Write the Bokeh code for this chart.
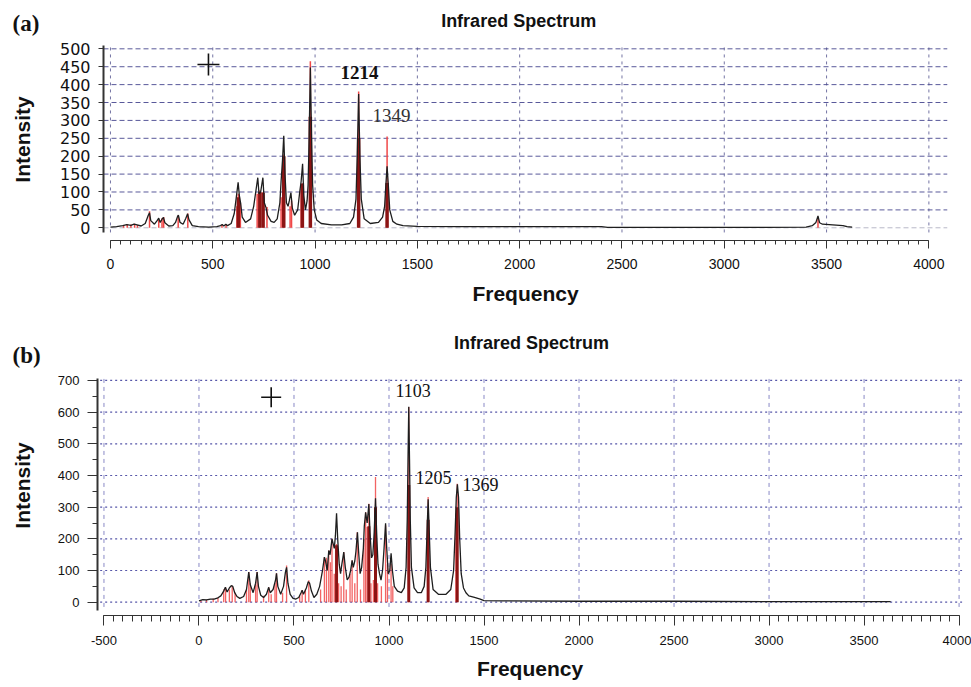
import math
from bokeh.plotting import figure
from bokeh.layouts import column, row
from bokeh.models import FixedTicker, Label
from bokeh.core.properties import value
from bokeh.embed import file_html
from bokeh.resources import INLINE

# ---------------- Panel (a) data ----------------
a_env_freq = [0, 30, 60, 80, 100, 115, 130, 150, 170, 185,
              191, 197, 215, 228, 236, 243, 252, 259, 266, 285,
              305, 318, 328, 332, 340, 355, 368, 377, 384, 400,
              430, 480, 520, 538, 546, 554, 564, 572, 590, 605,
              615, 624, 630, 636, 644, 660, 685, 700, 710, 720,
              726, 734, 745, 752, 760, 768, 785, 800, 815, 828,
              834, 841, 847, 853, 860, 868, 874, 882, 889, 900, 915, 925,
              932, 939, 945, 953, 961, 966, 971, 977, 983, 988, 996, 1008,
              1030, 1080, 1130, 1170, 1188, 1200, 1206, 1213, 1219, 1226, 1240,
              1270, 1310, 1330, 1340, 1346, 1352, 1358, 1365, 1380, 1400, 1430,
              1500, 1700, 2000, 2400, 2430, 2800, 3200, 3400, 3430, 3448,
              3458, 3466, 3480, 3530, 3580, 3600, 3625]
a_env_int = [2, 3, 6, 9, 7, 10, 8, 5, 12, 35,
             42, 20, 10, 20, 27, 15, 24, 29, 14, 5,
             6, 15, 32, 35, 15, 10, 26, 39, 22, 6,
             3, 2, 3, 6, 9, 5, 10, 6, 12, 40,
             85, 127, 90, 70, 30, 15, 25, 60, 100, 140,
             95, 100, 140, 70, 57, 35, 18, 15, 25, 70,
             130, 190, 257, 150, 70, 60, 75, 98, 55, 35, 50, 100,
             130, 179, 90, 50, 75, 120, 250, 448, 250, 120, 50, 22,
             12, 8, 8, 12, 30, 80, 200, 374, 200, 80, 25,
             12, 15, 30, 60, 120, 172, 120, 50, 18, 10, 6,
             4, 3, 3, 3, 1, 1, 1, 2, 6, 15,
             33, 14, 10, 8, 6, 3, 2]
a_stick_freq = [64, 82, 100, 118, 132, 191, 236, 252, 260, 331, 378, 545, 565,
                618, 625, 635, 717, 730, 746, 765, 834, 847, 878, 885, 932,
                938, 977, 1213, 1352, 3458]
a_stick_int = [8, 10, 9, 11, 8, 46, 22, 27, 30, 34, 40, 8, 10,
               60, 95, 70, 95, 104, 100, 58, 85, 205, 60, 76, 110,
               124, 465, 381, 255, 28]
a_dark_freq = [625, 730, 746, 847, 938, 977, 1213, 1352]
a_dark_int = [85, 100, 98, 200, 124, 310, 250, 125]
a_peak_labels = ["1214", "1349"]
a_yticks = list(range(0, 501, 50))
a_xticks = list(range(0, 4001, 500))

# ---------------- Panel (b) data ----------------
b_env_freq = [0, 20, 40, 60, 80, 100, 115, 130, 139, 148,
              160, 170, 178, 188, 200, 215, 235, 250, 262, 270,
              285, 298, 306, 313, 325, 340, 355, 367, 375, 390,
              403, 408, 415, 430, 445, 455, 461, 468, 480, 495,
              510, 525, 537, 543, 550, 565, 575, 582, 592, 605,
              620, 635, 650, 660, 666, 675, 683, 690, 700, 712,
              718, 724, 730, 738, 745, 752, 762, 770, 780, 790,
              798, 806, 812, 820, 826, 834, 840, 848, 856, 865,
              870, 877, 885, 894, 900, 908, 915, 922, 929, 935,
              942, 950, 958, 966, 974, 982, 988, 996, 1004, 1011,
              1018, 1028, 1045, 1065, 1080, 1090, 1096, 1100, 1104, 1108, 1112, 1118,
              1132, 1150, 1170, 1185, 1194, 1200, 1206, 1212, 1218, 1232,
              1260, 1300, 1325, 1340, 1348, 1354, 1360, 1366, 1372, 1380, 1392,
              1405, 1420, 1450, 1480, 1500, 1600, 2000, 2500, 3000, 3640]
b_env_int = [4, 8, 7, 10, 10, 14, 20, 35, 47, 32,
             45, 52, 50, 30, 18, 12, 18, 40, 95, 55,
             30, 60, 95, 50, 22, 15, 25, 47, 30, 40,
             70, 91, 50, 25, 50, 95, 110, 60, 25, 12,
             10, 15, 30, 38, 25, 45, 65, 60, 35, 15,
             25, 50, 100, 142, 130, 100, 163, 150, 200, 170,
             210, 281, 200, 120, 90, 120, 158, 110, 70, 80,
             100, 132, 110, 130, 160, 221, 160, 90, 110, 170,
             240, 284, 250, 310, 220, 140, 150, 220, 328, 220,
             120, 90, 70, 100, 170, 249, 170, 90, 100, 154,
             100, 50, 35, 30, 45, 110, 260, 450, 617, 450, 260, 110,
             45, 30, 30, 50, 110, 220, 325, 220, 110, 40,
             25, 25, 40, 100, 220, 330, 372, 330, 200, 90, 45,
             30, 20, 15, 10, 5, 4, 3, 3, 2, 2]
b_stick_freq = [10, 40, 75, 100, 130, 140, 160, 175, 190, 250, 262, 270, 298, 306,
                340, 367, 380, 400, 408, 440, 461, 530, 543, 560, 578, 640, 660,
                671, 683, 692, 700, 712, 724, 735, 748, 762, 775, 795, 806, 820,
                833, 850, 868, 877, 885, 894, 905, 918, 929, 940, 960, 982, 992,
                1011, 1020, 1104, 1206, 1352, 1359]
b_stick_int = [5, 8, 12, 15, 40, 47, 40, 52, 30, 40, 95, 60, 55, 95,
               20, 47, 25, 60, 91, 30, 116, 20, 38, 40, 69, 40, 142,
               140, 163, 126, 200, 90, 184, 60, 50, 158, 40, 90, 132, 60,
               221, 40, 200, 284, 237, 311, 60, 70, 395, 60, 50, 242, 120,
               121, 50, 616, 332, 280, 374]
b_dark_freq = [724, 894, 929, 1104, 1206, 1359]
b_dark_int = [180, 240, 300, 370, 260, 300]
b_peak_labels = ["1103", "1205", "1369"]
b_yticks = list(range(0, 701, 100))
b_xticks = list(range(-500, 4001, 500))

TITLE = "Infrared Spectrum"
XLAB = "Frequency"
YLAB = "Intensity"
STICK_RED = "#f04848"
DARK_RED = "#8c1414"
LINE_BLACK = "#1e1e1e"
NARROW = "Liberation Sans Narrow, Liberation Sans"
SIDE_W = 45


def style_axis(ax, font, size):
    ax.major_label_text_font = font
    ax.major_label_text_font_size = size
    ax.major_label_text_color = "#111111"
    ax.axis_label_text_font = "Liberation Sans"
    ax.axis_label_text_font_style = "bold"
    ax.axis_label_text_font_size = "21px"
    ax.axis_label_text_color = "#111111"
    ax.axis_line_color = "#333333"
    ax.major_tick_line_color = "#333333"
    ax.minor_tick_line_color = "#333333"
    ax.major_tick_in = 0
    ax.minor_tick_in = 0


def side_panel(height, bottom_border, tag, tag_y, ylab_y):
    # the row aligns this frame with the neighbouring plot frame (top 0, bottom border)
    s = figure(width=SIDE_W, height=height, x_range=(0, SIDE_W),
               y_range=(bottom_border, height),
               x_axis_type=None, y_axis_type=None, toolbar_location=None,
               output_backend="svg", title=None, min_border=0,
               min_border_bottom=bottom_border)
    s.outline_line_color = None
    s.text(x=[12], y=[height - tag_y], text=[tag], text_font=value("Liberation Serif"),
           text_font_size="23px", text_font_style="bold", text_baseline="middle",
           text_align="left", text_color="#111111")
    s.text(x=[22], y=[height - ylab_y], text=[YLAB], angle=math.pi / 2,
           text_font=value("Liberation Sans"), text_font_size="21px",
           text_font_style="bold", text_baseline="middle", text_align="center",
           text_color="#111111")
    return s


# ================= Figure (a) =================
pa = figure(width=971 - SIDE_W, height=322, output_backend="svg", toolbar_location=None,
            title=None, x_range=(-34, 4091), y_range=(-35.5, 635),
            min_border_left=103 - SIDE_W, min_border_right=24, min_border_top=0,
            min_border_bottom=82)
pa.outline_line_color = None
pa.xgrid.visible = False
pa.ygrid.visible = False

ax = pa.xaxis[0]
ax.ticker = FixedTicker(ticks=a_xticks, minor_ticks=list(range(0, 4001, 50)))
ax.bounds = (0, 4000)
ax.axis_label = XLAB
style_axis(ax, "Liberation Sans", "14px")
ax.major_tick_out = 8
ax.minor_tick_out = 4
ax.major_label_standoff = 10
ax.axis_label_standoff = 10

ay = pa.yaxis[0]
ay.ticker = FixedTicker(ticks=a_yticks, minor_ticks=[])
ay.bounds = (-13, 509)
style_axis(ay, "DejaVu Sans", "16px")
ay.axis_line_width = 2
ay.major_tick_out = 5
ay.major_label_standoff = 8

# grid
pa.segment(x0=-34, y0=a_yticks[1:], x1=4091, y1=a_yticks[1:], line_color="#3c3c88",
           line_width=1, line_dash="5 3", line_alpha=0.85)
pa.segment(x0=-34, y0=[a_yticks[0]], x1=4091, y1=[a_yticks[0]], line_color="#b8b8c8",
           line_width=1, line_dash="5 3")
pa.segment(x0=a_xticks, y0=-13, x1=a_xticks, y1=509, line_color="#50508c",
           line_width=1, line_dash="3 4", line_alpha=0.8)

# spectrum
pa.segment(x0=a_stick_freq, y0=0, x1=a_stick_freq, y1=a_stick_int,
           line_color=STICK_RED, line_width=1.5)
pa.segment(x0=a_dark_freq, y0=0, x1=a_dark_freq, y1=a_dark_int,
           line_color=DARK_RED, line_width=3.5)
pa.line(a_env_freq, a_env_int, line_color=LINE_BLACK, line_width=1.3)

pa.scatter([479], [456], marker="cross", size=22, line_color="#111111", line_width=1.6)
pa.add_layout(Label(x=1995, y=579, text=TITLE, text_font="Liberation Sans",
                    text_font_size="18px", text_font_style="bold", text_align="center",
                    text_baseline="middle", text_color="#111111"))
pa.add_layout(Label(x=1124, y=434, text=a_peak_labels[0], text_font="Liberation Serif",
                    text_font_size="19px", text_font_style="bold", text_baseline="middle",
                    text_color="#111111"))
pa.add_layout(Label(x=1281, y=313, text=a_peak_labels[1], text_font="Liberation Serif",
                    text_font_size="19px", text_baseline="middle", text_color="#333333"))

sa = side_panel(322, 82, "(a)", 23, 139)

# ================= Figure (b) =================
pb = figure(width=971 - SIDE_W, height=365, output_backend="svg", toolbar_location=None,
            title=None, x_range=(-534, 4018), y_range=(-42, 883),
            min_border_left=97 - SIDE_W, min_border_right=9, min_border_top=0,
            min_border_bottom=72)
pb.outline_line_color = None
pb.xgrid.visible = False
pb.ygrid.visible = False

bx = pb.xaxis[0]
bx.ticker = FixedTicker(ticks=b_xticks, minor_ticks=list(range(-500, 4001, 50)))
bx.bounds = (-500, 4000)
bx.axis_label = XLAB
bx.major_label_overrides = {-500: "-500"}
style_axis(bx, NARROW, "13px")
bx.major_tick_out = 10
bx.minor_tick_out = 6
bx.major_label_standoff = 10
bx.axis_label_standoff = 9

by = pb.yaxis[0]
by.ticker = FixedTicker(ticks=b_yticks, minor_ticks=list(range(0, 701, 50)))
by.bounds = (-25, 705)
style_axis(by, NARROW, "13px")
by.axis_line_width = 2
by.major_tick_out = 10
by.minor_tick_out = 5
by.major_label_standoff = 8

pb.segment(x0=-520, y0=b_yticks, x1=4018, y1=b_yticks, line_color="#3a3a9a",
           line_width=1.2, line_dash="2 3", line_alpha=0.85)
pb.segment(x0=b_xticks, y0=-15, x1=b_xticks, y1=716, line_color="#7c7cc0",
           line_width=1, line_dash="4 4", line_alpha=0.9)

pb.segment(x0=b_stick_freq, y0=0, x1=b_stick_freq, y1=b_stick_int,
           line_color=STICK_RED, line_width=1.3, line_alpha=0.85)
pb.segment(x0=b_dark_freq, y0=0, x1=b_dark_freq, y1=b_dark_int,
           line_color=DARK_RED, line_width=3)
pb.line(b_env_freq, b_env_int, line_color=LINE_BLACK, line_width=1.3)

pb.scatter([380], [647], marker="cross", size=20, line_color="#111111", line_width=1.6)
pb.add_layout(Label(x=1750, y=817, text=TITLE, text_font="Liberation Sans",
                    text_font_size="18px", text_font_style="bold", text_align="center",
                    text_baseline="middle", text_color="#111111"))
b_label_pos = [(1034, 668), (1139, 394), (1387, 372)]
for txt, (lx, ly) in zip(b_peak_labels, b_label_pos):
    pb.add_layout(Label(x=lx, y=ly, text=txt, text_font="Liberation Serif",
                        text_font_size="18px", text_baseline="middle", text_color="#111111"))

sb = side_panel(365, 72, "(b)", 33, 163)

layout = column(row(sa, pa, spacing=0), row(sb, pb, spacing=0), spacing=0)
open("out.html", "w").write(file_html(layout, INLINE))
